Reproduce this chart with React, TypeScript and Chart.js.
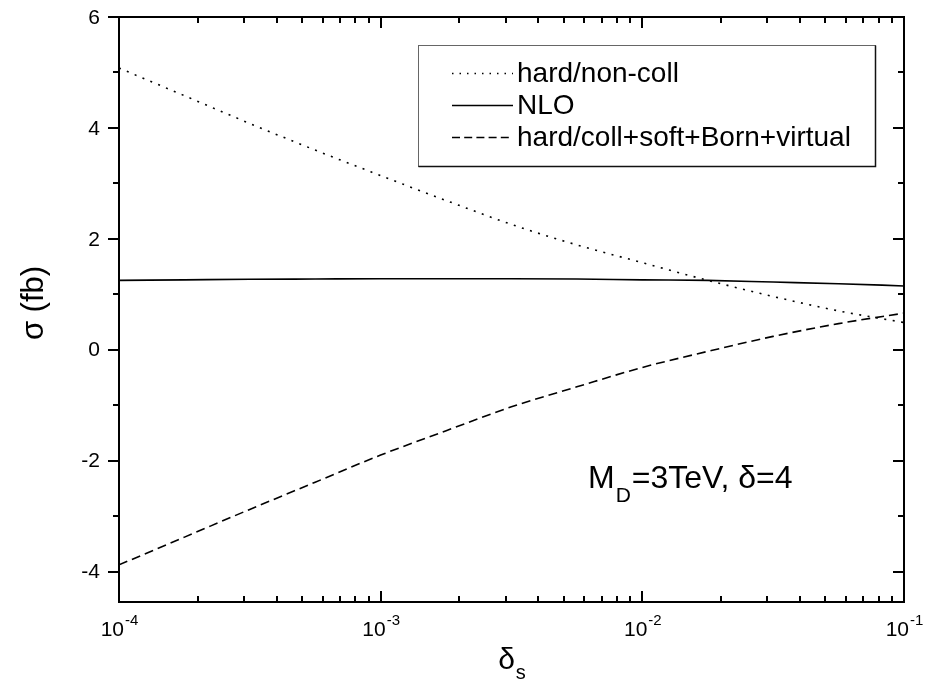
import React, { useEffect, useRef } from 'react';
import { Chart, registerables } from 'chart.js';

Chart.register(...registerables);

// ---- data ----
const DELTA_S = [0.0001, 0.000178, 0.000316, 0.000562, 0.001, 0.00178, 0.00316, 0.00562, 0.01, 0.0178, 0.0316, 0.0562, 0.1];
const HARD_NONCOLL = [5.08, 4.58, 4.08, 3.6, 3.14, 2.69, 2.26, 1.89, 1.57, 1.25, 0.96, 0.7, 0.49];
const NLO = [1.25, 1.26, 1.27, 1.275, 1.28, 1.28, 1.28, 1.275, 1.26, 1.25, 1.22, 1.19, 1.15];
const HARD_COLL = [-3.88, -3.38, -2.88, -2.39, -1.9, -1.46, -1.03, -0.67, -0.32, -0.03, 0.24, 0.47, 0.66];

const SERIES_LABELS = ['hard/non-coll', 'NLO', 'hard/coll+soft+Born+virtual'];
const Y_TICKS = [-4, -2, 0, 2, 4, 6];
const Y_TICK_LABELS = ['-4', '-2', '0', '2', '4', '6'];
const Y_MINOR = [-3, -1, 1, 3, 5];
const Y_MIN = -4.55;
const Y_MAX = 6;
const X_DECADES = [0.0001, 0.001, 0.01, 0.1];
const X_EXPONENTS = ['-4', '-3', '-2', '-1'];
const X_MINOR_MULT = [2, 3, 4, 5, 6, 7, 8, 9];
const ANNOT_MAIN = 'M';
const ANNOT_SUB = 'D';
const ANNOT_REST = '=3TeV, δ=4';
const Y_TITLE = 'σ (fb)';
const X_TITLE = 'δ';
const X_TITLE_SUB = 's';

const FONT = '"Liberation Sans", Arial, Helvetica, sans-serif';
const DOTTED = [2, 6.5];
const DASHED = [9, 5];

export default function App() {
  const ref = useRef<HTMLCanvasElement>(null);

  useEffect(() => {
    const canvas = ref.current;
    if (!canvas) return;

    const overlay = {
      id: 'overlay',
      afterDraw(chart: any) {
        const ctx = chart.ctx as CanvasRenderingContext2D;
        const { left, right, top, bottom } = chart.chartArea;
        const xs = chart.scales.x;
        const ys = chart.scales.y;
        const MAJ = 11;
        const MIN = 6;
        ctx.save();
        ctx.strokeStyle = '#000';
        ctx.fillStyle = '#000';
        ctx.lineWidth = 2;
        ctx.setLineDash([]);
        ctx.strokeRect(left, top, right - left, bottom - top);

        ctx.beginPath();
        // y ticks: outward on left, inward on right
        Y_TICKS.forEach((v) => {
          const p = Math.round(ys.getPixelForValue(v));
          ctx.moveTo(left - MAJ, p);
          ctx.lineTo(left, p);
          ctx.moveTo(right, p);
          ctx.lineTo(right - MAJ, p);
        });
        Y_MINOR.forEach((v) => {
          const p = Math.round(ys.getPixelForValue(v));
          ctx.moveTo(left - MIN, p);
          ctx.lineTo(left, p);
          ctx.moveTo(right, p);
          ctx.lineTo(right - MIN, p);
        });
        // x ticks: inward on bottom and top
        X_DECADES.forEach((d) => {
          const p = Math.round(xs.getPixelForValue(d));
          ctx.moveTo(p, bottom);
          ctx.lineTo(p, bottom - MAJ);
          ctx.moveTo(p, top);
          ctx.lineTo(p, top + MAJ);
        });
        X_DECADES.slice(0, -1).forEach((d) => {
          X_MINOR_MULT.forEach((m) => {
            const p = Math.round(xs.getPixelForValue(d * m));
            ctx.moveTo(p, bottom);
            ctx.lineTo(p, bottom - MIN);
            ctx.moveTo(p, top);
            ctx.lineTo(p, top + MIN);
          });
        });
        ctx.stroke();

        // y tick labels
        ctx.font = `21px ${FONT}`;
        ctx.textAlign = 'right';
        ctx.textBaseline = 'middle';
        Y_TICKS.forEach((v, i) => {
          ctx.fillText(Y_TICK_LABELS[i], 100, ys.getPixelForValue(v) + 1);
        });

        // x tick labels 10^n
        ctx.textBaseline = 'alphabetic';
        ctx.textAlign = 'left';
        X_DECADES.forEach((d, i) => {
          const p = xs.getPixelForValue(d);
          ctx.font = `21px ${FONT}`;
          const wb = ctx.measureText('10').width;
          ctx.font = `15px ${FONT}`;
          const we = ctx.measureText(X_EXPONENTS[i]).width;
          const x0 = p - (wb + we) / 2;
          ctx.font = `21px ${FONT}`;
          ctx.fillText('10', x0, 636);
          ctx.font = `15px ${FONT}`;
          ctx.fillText(X_EXPONENTS[i], x0 + wb + 1, 625);
        });

        // x title
        ctx.font = `30px ${FONT}`;
        const wd = ctx.measureText(X_TITLE).width;
        ctx.font = `20px ${FONT}`;
        const ws = ctx.measureText(X_TITLE_SUB).width;
        const xc = (left + right) / 2;
        const tx = xc - (wd + ws) / 2;
        ctx.font = `30px ${FONT}`;
        ctx.fillText(X_TITLE, tx, 669);
        ctx.font = `20px ${FONT}`;
        ctx.fillText(X_TITLE_SUB, tx + wd + 1, 679);

        // y title
        ctx.save();
        ctx.translate(34, 303);
        ctx.rotate(-Math.PI / 2);
        ctx.textAlign = 'center';
        ctx.textBaseline = 'middle';
        ctx.font = `31px ${FONT}`;
        ctx.fillText(Y_TITLE, 0, 0);
        ctx.restore();

        // legend
        const bx = 418.5, by = 45.5, bw = 457, bh = 121;
        ctx.lineWidth = 1;
        ctx.strokeStyle = '#666';
        ctx.strokeRect(bx, by, bw, bh);
        ctx.strokeStyle = '#111';
        ctx.lineWidth = 1.5;
        ctx.beginPath();
        ctx.moveTo(bx, by + bh);
        ctx.lineTo(bx + bw, by + bh);
        ctx.lineTo(bx + bw, by);
        ctx.stroke();
        const dashes = [[1.5, 6], [], [8, 4.2]];
        const rows = [73, 105, 137];
        chart.data.datasets.forEach((ds: any, i: number) => {
          ctx.strokeStyle = '#000';
          ctx.lineWidth = 1.5;
          ctx.setLineDash(dashes[i]);
          ctx.beginPath();
          ctx.moveTo(452, rows[i] + 0.5);
          ctx.lineTo(513, rows[i] + 0.5);
          ctx.stroke();
          ctx.setLineDash([]);
          ctx.textAlign = 'left';
          ctx.textBaseline = 'middle';
          ctx.font = `28px ${FONT}`;
          ctx.fillText(ds.label, 517, rows[i] + 1);
        });

        // annotation
        ctx.textBaseline = 'alphabetic';
        ctx.textAlign = 'left';
        ctx.font = `32px ${FONT}`;
        const wm = ctx.measureText(ANNOT_MAIN).width;
        ctx.fillText(ANNOT_MAIN, 588, 488);
        ctx.font = `21px ${FONT}`;
        const wsub = ctx.measureText(ANNOT_SUB).width;
        ctx.fillText(ANNOT_SUB, 588 + wm + 1, 502);
        ctx.font = `32px ${FONT}`;
        ctx.fillText(ANNOT_REST, 588 + wm + wsub + 2, 488);

        ctx.restore();
      },
    };

    const mk = (vals: number[]) => DELTA_S.map((x, i) => ({ x, y: vals[i] }));

    const chart = new Chart(canvas, {
      type: 'line',
      data: {
        datasets: [
          {
            label: SERIES_LABELS[0],
            data: mk(HARD_NONCOLL),
            borderColor: '#000',
            borderWidth: 1.6,
            borderDash: DOTTED,
            pointRadius: 0,
            cubicInterpolationMode: 'monotone',
            fill: false,
          },
          {
            label: SERIES_LABELS[1],
            data: mk(NLO),
            borderColor: '#000',
            borderWidth: 1.6,
            pointRadius: 0,
            cubicInterpolationMode: 'monotone',
            fill: false,
          },
          {
            label: SERIES_LABELS[2],
            data: mk(HARD_COLL),
            borderColor: '#000',
            borderWidth: 1.6,
            borderDash: DASHED,
            pointRadius: 0,
            cubicInterpolationMode: 'monotone',
            fill: false,
          },
        ],
      },
      options: {
        responsive: false,
        animation: false,
        devicePixelRatio: 1,
        layout: { padding: { top: 17, right: 22, left: 0, bottom: 0 } },
        plugins: { legend: { display: false }, tooltip: { enabled: false } },
        scales: {
          x: {
            type: 'logarithmic',
            min: 0.0001,
            max: 0.1,
            grid: { display: false, drawTicks: false },
            border: { display: false },
            ticks: { display: false },
            afterFit: (s: any) => {
              s.height = 84;
            },
          },
          y: {
            type: 'linear',
            min: Y_MIN,
            max: Y_MAX,
            grid: { display: false, drawTicks: false },
            border: { display: false },
            ticks: { display: false },
            afterFit: (s: any) => {
              s.width = 119;
            },
          },
        },
      },
      plugins: [overlay],
    } as any);

    return () => chart.destroy();
  }, []);

  return (
    <div style={{ position: 'fixed', left: 0, top: 0, width: 926, height: 686, background: '#fff' }}>
      <canvas ref={ref} width={926} height={686} style={{ display: 'block' }} />
    </div>
  );
}
